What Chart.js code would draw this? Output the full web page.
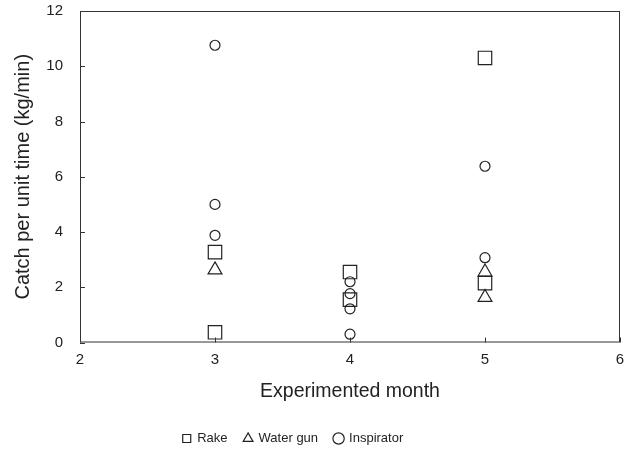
<!DOCTYPE html>
<html>
<head>
<meta charset="utf-8">
<script src="https://cdn.jsdelivr.net/npm/chart.js@4.4.1/dist/chart.umd.min.js"></script>
<style>
  html, body { margin: 0; padding: 0; background: #fff; }
  #wrap { width: 631px; height: 452px; position: relative; }
</style>
</head>
<body>
<div id="wrap"><canvas id="catchChart"></canvas></div>
<script>
// Catch per unit time by experimented month
const rakeMonths = [3, 3, 4, 4, 5, 5];
const rakeValues = [3.27, 0.37, 2.55, 1.55, 10.3, 2.15];

const waterGunMonths = [3, 5, 5];
const waterGunValues = [2.63, 2.55, 1.63];

const inspiratorMonths = [3, 3, 3, 4, 4, 4, 4, 5, 5];
const inspiratorValues = [10.76, 5.0, 3.88, 2.2, 1.77, 1.22, 0.3, 6.38, 3.07];

const xTicks = [2, 3, 4, 5, 6];
const yTicks = [0, 2, 4, 6, 8, 10, 12];

const toPoints = (xs, ys) => xs.map((x, i) => ({ x, y: ys[i] }));

// frame around plot + inward tick marks
const framePlugin = {
    id: 'frame',
    afterLayout(chart) {
        // legend sits a bit left of centre in the original
        chart.legend.left -= 17;
        chart.legend.right -= 17;
    },
    afterDraw(chart) {
        const { ctx, chartArea: a, scales } = chart;
        ctx.save();
        ctx.strokeStyle = '#333';
        ctx.lineWidth = 1;
        ctx.strokeRect(a.left + 0.5, a.top + 0.5, a.right - a.left - 1, a.bottom - a.top - 1);
        ctx.beginPath();
        xTicks.forEach(v => {
            const px = Math.round(scales.x.getPixelForValue(v)) + 0.5;
            ctx.moveTo(px, a.bottom);
            ctx.lineTo(px, a.bottom - 5);
        });
        yTicks.forEach(v => {
            const py = Math.round(scales.y.getPixelForValue(v)) + 0.5;
            ctx.moveTo(a.left, py);
            ctx.lineTo(a.left + 5, py);
        });
        ctx.stroke();
        ctx.restore();
    }
};

const fontFamily = 'Liberation Sans, Arial, sans-serif';
const tickFont = { family: fontFamily, size: 15 };

// invisible outer tick marks only used as label spacing
const hiddenGrid = len => ({
    display: true,
    drawOnChartArea: false,
    drawTicks: true,
    tickLength: len,
    color: 'rgba(0,0,0,0)'
});

new Chart(document.getElementById('catchChart'), {
    type: 'scatter',
    data: {
        datasets: [
            {
                label: 'Rake',
                data: toPoints(rakeMonths, rakeValues),
                pointStyle: 'rect',
                pointRadius: 9.5,
                backgroundColor: 'rgba(255,255,255,0)',
                borderColor: '#222',
                borderWidth: 1.2
            },
            {
                label: 'Water gun',
                data: toPoints(waterGunMonths, waterGunValues),
                pointStyle: 'triangle',
                pointRadius: 8,
                backgroundColor: 'rgba(255,255,255,0)',
                borderColor: '#222',
                borderWidth: 1.2
            },
            {
                label: 'Inspirator',
                data: toPoints(inspiratorMonths, inspiratorValues),
                pointStyle: 'circle',
                pointRadius: 5,
                backgroundColor: 'rgba(255,255,255,0)',
                borderColor: '#222',
                borderWidth: 1.2
            }
        ]
    },
    options: {
        responsive: true,
        maintainAspectRatio: false,
        animation: false,
        layout: { padding: { top: 11, right: 11, left: 0, bottom: -3 } },
        plugins: {
            tooltip: { enabled: false },
            legend: {
                position: 'bottom',
                labels: {
                    usePointStyle: true,
                    boxHeight: 8,
                    boxWidth: 8,
                    padding: 16.5,
                    color: '#222',
                    font: { family: fontFamily, size: 13 }
                }
            }
        },
        scales: {
            x: {
                type: 'linear',
                min: 2,
                max: 6,
                afterBuildTicks: s => { s.ticks = xTicks.map(v => ({ value: v })); },
                afterFit: s => { s.height = 73; },
                grid: hiddenGrid(8),
                border: { display: false },
                ticks: { color: '#222', font: tickFont, padding: 0 },
                title: {
                    display: true,
                    text: 'Experimented month',
                    color: '#222',
                    font: { family: fontFamily, size: 19.5 },
                    padding: { top: 6, bottom: 12 }
                }
            },
            y: {
                min: 0,
                max: 12,
                afterBuildTicks: s => { s.ticks = yTicks.map(v => ({ value: v })); },
                afterFit: s => { s.width = 80; },
                grid: hiddenGrid(17),
                border: { display: false },
                ticks: { color: '#222', font: tickFont, padding: 0 },
                title: {
                    display: true,
                    text: 'Catch per unit time (kg/min)',
                    color: '#222',
                    font: { family: fontFamily, size: 20 },
                    padding: { top: 11, bottom: 4 }
                }
            }
        }
    },
    plugins: [framePlugin]
});
</script>
</body>
</html>
